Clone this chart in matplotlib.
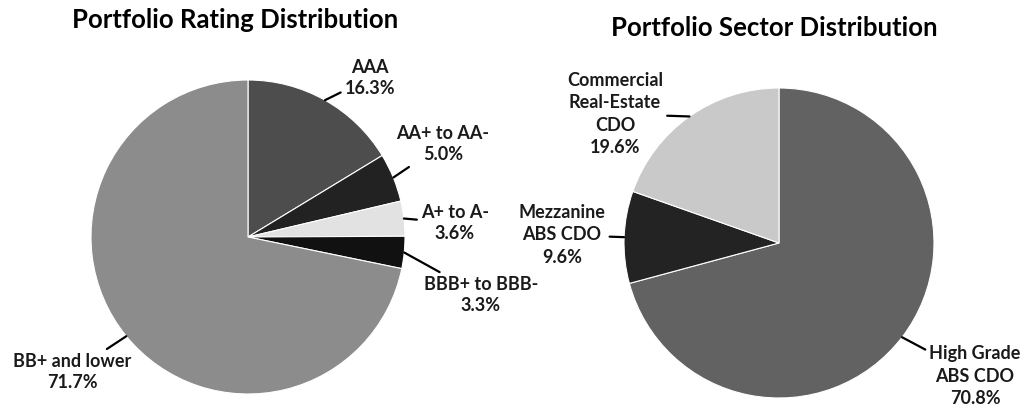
import matplotlib
matplotlib.use("Agg")
import matplotlib.pyplot as plt
import numpy as np

# data
rating_labels = ["AAA", "AA+ to AA-", "A+ to A-", "BBB+ to BBB-", "BB+ and lower"]
rating_values = [16.3, 5.0, 3.6, 3.3, 71.7]
rating_colors = ["#4d4d4d", "#222222", "#e2e2e2", "#111111", "#8c8c8c"]

sector_labels = ["High Grade\nABS CDO", "Mezzanine\nABS CDO", "Commercial\nReal-Estate\nCDO"]
sector_values = [70.8, 9.6, 19.6]
sector_colors = ["#626262", "#232323", "#c9c9c9"]

# text positions in pixel space (x right, y down)
rating_text_pos = [(370, 78), (443, 144), (455, 223), (481, 295), (72, 372)]
sector_text_pos = [(975, 376), (562, 235), (615, 114)]

W, H = 1024, 409
plt.rcParams['font.family'] = ['Lato', 'DejaVu Sans']
fig = plt.figure(figsize=(W / 100, H / 100), dpi=100)
ax = fig.add_axes([0, 0, 1, 1])


def draw_pie(values, labels, colors, center_px, radius, text_pos, spacing):
    cx, cy = center_px[0], H - center_px[1]
    wedges, _ = ax.pie(values, colors=colors, startangle=90, counterclock=False,
                       center=(cx, cy), radius=radius, frame=True,
                       wedgeprops=dict(edgecolor='white', linewidth=0.8))
    for w, lab, v, (tx, ty) in zip(wedges, labels, values, text_pos):
        ang = np.deg2rad((w.theta1 + w.theta2) / 2)
        px = cx + radius * np.cos(ang)
        py = cy + radius * np.sin(ang)
        ax.annotate("%s\n%.1f%%" % (lab, v), xy=(px, py), xytext=(tx, H - ty),
                    ha='center', va='center', fontsize=13, fontweight='bold',
                    color='#1a1a1a', linespacing=spacing,
                    arrowprops=dict(arrowstyle='-', color='black', lw=1.6,
                                    shrinkA=1, shrinkB=0))


draw_pie(rating_values, rating_labels, rating_colors, (248, 237), 157, rating_text_pos, 1.35)
draw_pie(sector_values, sector_labels, sector_colors, (779, 243), 155, sector_text_pos, 1.4)

ax.set_xlim(0, W)
ax.set_ylim(0, H)
ax.set_aspect('equal')
ax.axis('off')

ax.text(235, H - 20, "Portfolio Rating Distribution", ha='center', va='center',
        fontsize=18.5, fontweight='bold', color='black')
ax.text(774, H - 28, "Portfolio Sector Distribution", ha='center', va='center',
        fontsize=18.5, fontweight='bold', color='black')

fig.savefig("out.png", dpi=100)
